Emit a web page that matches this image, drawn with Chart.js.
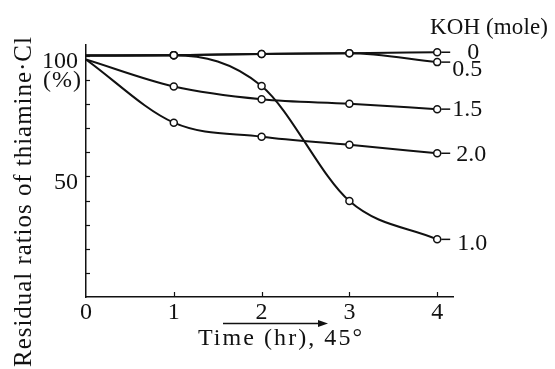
<!DOCTYPE html>
<html>
<head>
<meta charset="utf-8">
<script src="https://cdn.jsdelivr.net/npm/chart.js@4/dist/chart.umd.min.js"></script>
<style>
  html, body { margin: 0; padding: 0; background: #fff; }
  #wrap { width: 555px; height: 369px; }
</style>
</head>
<body>
<div id="wrap"><canvas id="chart" width="555" height="369"></canvas></div>
<script>
// ============================================================
// DATA
// ============================================================
const hours = [0, 1, 2, 3, 4];
const koh0 = [100.1, 100.3, 100.8, 101.1, 101.5];
const koh05 = [100.1, 100.3, 100.8, 101.1, 97.4];
const koh10 = [100.1, 100.3, 87.5, 39.8, 23.9];
const koh15 = [98.5, 87.3, 82.0, 80.1, 77.9];
const koh20 = [98.5, 72.3, 66.5, 63.1, 59.6];
const seriesLabels = ['0', '0.5', '1.0', '1.5', '2.0'];
const yLabelValues = [100, 50];

const SERIF = '"Liberation Serif", "DejaVu Serif", serif';
const INK = '#111';

// label placement next to the last point of each curve (dx, dy from point)
const labelOffsets = {
  '0': [30, 0],
  '0.5': [15, 8],
  '1.0': [20, 4],
  '1.5': [15, 1],
  '2.0': [19, 1],
};

function toPoints(values) {
  return hours.map((h, i) => ({ x: h, y: values[i] }));
}

function makeSet(label, values) {
  return {
    label,
    data: toPoints(values),
    borderColor: INK,
    borderWidth: 2,
    backgroundColor: '#fff',
    pointBackgroundColor: '#fff',
    pointBorderColor: INK,
    pointBorderWidth: 1.5,
    pointRadius: [0, 3.5, 3.5, 3.5, 3.5],
    cubicInterpolationMode: 'monotone',
    fill: false,
  };
}

// draw text squeezed / spread to a given width, centred on x
function fitText(ctx, text, x, y, width) {
  ctx.letterSpacing = '0px';
  const w = ctx.measureText(text).width;
  const spacing = (width - w) / Math.max(1, text.length - 1);
  ctx.letterSpacing = spacing.toFixed(2) + 'px';
  ctx.textAlign = 'left';
  ctx.fillText(text, x - width / 2, y);
  ctx.letterSpacing = '0px';
}

// ============================================================
// DECORATIONS: inward ticks, labels, arrow, titles
// ============================================================
const decorations = {
  id: 'decorations',
  afterDraw(chart) {
    const { ctx, scales: { x, y } } = chart;
    ctx.save();
    ctx.strokeStyle = INK;
    ctx.fillStyle = INK;
    ctx.lineWidth = 1.2;

    // inward ticks
    for (let v = 10; v <= 100; v += 10) {
      const py = Math.round(y.getPixelForValue(v)) + 0.5;
      ctx.beginPath();
      ctx.moveTo(x.left, py);
      ctx.lineTo(x.left + 4, py);
      ctx.stroke();
    }
    for (let v = 1; v <= 4; v++) {
      const px = Math.round(x.getPixelForValue(v)) + 0.5;
      ctx.beginPath();
      ctx.moveTo(px, y.bottom);
      ctx.lineTo(px, y.bottom - 5);
      ctx.stroke();
    }

    // series labels with the small dash
    ctx.font = '24px ' + SERIF;
    ctx.textBaseline = 'middle';
    ctx.lineWidth = 1.5;
    chart.data.datasets.forEach((ds, i) => {
      const meta = chart.getDatasetMeta(i);
      const last = meta.data[meta.data.length - 1];
      const [dx, dy] = labelOffsets[ds.label];
      ctx.beginPath();
      ctx.moveTo(last.x + 4, last.y);
      ctx.lineTo(last.x + 13, last.y);
      ctx.stroke();
      ctx.textAlign = 'left';
      ctx.fillText(ds.label, last.x + dx, last.y + dy);
    });

    // KOH legend title
    ctx.font = '23px ' + SERIF;
    fitText(ctx, 'KOH (mole)', 489, 28, 118);

    // (%) under 100
    ctx.font = '24px ' + SERIF;
    fitText(ctx, '(%)', 62, 81, 38);

    // x title + arrow
    fitText(ctx, 'Time (hr), 45°', 280, 339, 164);
    ctx.lineWidth = 1.3;
    ctx.beginPath();
    ctx.moveTo(223, 323.5);
    ctx.lineTo(322, 323.5);
    ctx.stroke();
    ctx.beginPath();
    ctx.moveTo(328, 323.5);
    ctx.lineTo(318, 320);
    ctx.lineTo(318, 327);
    ctx.closePath();
    ctx.fill();

    // y title (rotated)
    ctx.save();
    ctx.translate(24, 202);
    ctx.rotate(-Math.PI / 2);
    ctx.font = '25px ' + SERIF;
    fitText(ctx, 'Residual ratios of thiamine·Cl', 0, 0, 330);
    ctx.restore();

    ctx.restore();
  },
};

// ============================================================
// CHART
// ============================================================
new Chart(document.getElementById('chart'), {
  type: 'line',
  data: {
    datasets: [
      makeSet(seriesLabels[0], koh0),
      makeSet(seriesLabels[1], koh05),
      makeSet(seriesLabels[2], koh10),
      makeSet(seriesLabels[3], koh15),
      makeSet(seriesLabels[4], koh20),
    ],
  },
  options: {
    responsive: false,
    animation: false,
    layout: { padding: { top: 45, right: 102, left: 0, bottom: 0 } },
    plugins: { legend: { display: false }, tooltip: { enabled: false } },
    scales: {
      x: {
        type: 'linear',
        min: 0,
        max: 4.18,
        grid: { display: false, drawTicks: false },
        border: { display: true, color: INK, width: 1.5 },
        ticks: {
          stepSize: 1,
          includeBounds: false,
          autoSkip: false,
          maxRotation: 0,
          color: INK,
          padding: 1,
          font: { family: SERIF, size: 24 },
          callback: (v) => (Number.isInteger(v) ? String(v) : ''),
        },
        afterFit: (scale) => { scale.height = 72; },
      },
      y: {
        min: 0,
        max: 104.5,
        grid: { display: false, drawTicks: false },
        border: { display: true, color: INK, width: 1.5 },
        ticks: {
          stepSize: 10,
          includeBounds: false,
          autoSkip: false,
          color: INK,
          padding: 8,
          labelOffset: 6,
          font: { family: SERIF, size: 24 },
          callback: (v) => (yLabelValues.includes(v) ? String(v) : ''),
        },
        afterFit: (scale) => { scale.width = 86; },
      },
    },
  },
  plugins: [decorations],
});
</script>
</body>
</html>
